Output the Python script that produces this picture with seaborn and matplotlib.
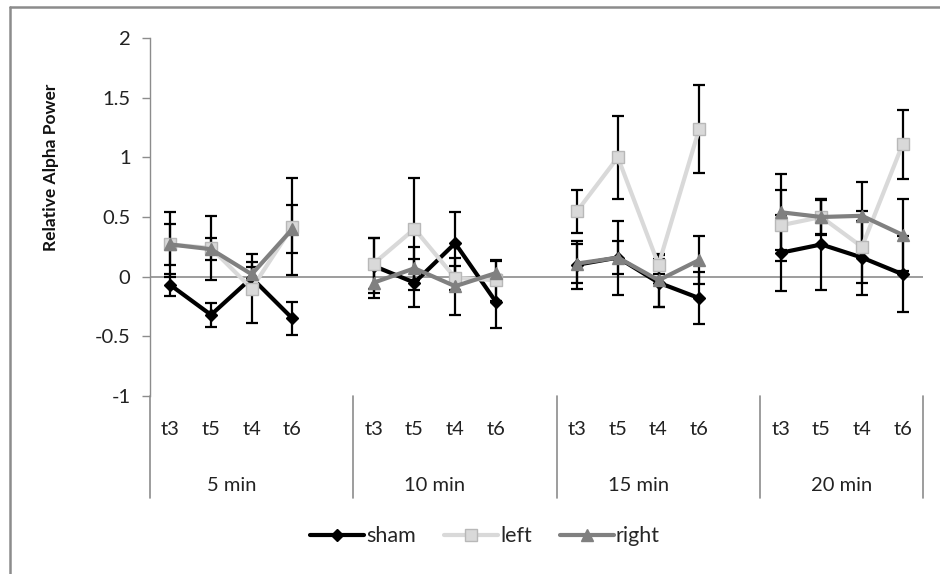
import numpy as np
import pandas as pd
import matplotlib
matplotlib.use("Agg")
import matplotlib.pyplot as plt
from matplotlib.lines import Line2D
import matplotlib.transforms as mtransforms
import seaborn as sns

# ---------------- data ----------------
groups = ["5 min", "10 min", "15 min", "20 min"]
timepoints = ["t3", "t5", "t4", "t6"]
series_names = ["sham", "left", "right"]

sham = [-0.07, -0.32, -0.01, -0.35,
        0.09, -0.05, 0.28, -0.21,
        0.10, 0.16, -0.05, -0.18,
        0.20, 0.27, 0.16, 0.02]
sham_err = [0.09, 0.10, 0.09, 0.14,
            0.23, 0.20, 0.26, 0.22,
            0.20, 0.31, 0.20, 0.22,
            0.32, 0.38, 0.31, 0.32]

left = [0.27, 0.24, -0.10, 0.42,
        0.11, 0.40, -0.01, -0.03,
        0.55, 1.00, 0.10, 1.24,
        0.43, 0.50, 0.25, 1.11]
left_err = [0.27, 0.27, 0.29, 0.41,
            0.21, 0.43, 0.10, 0.17,
            0.18, 0.35, 0.08, 0.37,
            0.30, 0.14, 0.30, 0.29]

right = [0.27, 0.23, 0.02, 0.40,
         -0.05, 0.07, -0.08, 0.03,
         0.11, 0.16, -0.03, 0.14,
         0.54, 0.50, 0.51, 0.35]
right_err = [0.17, 0.09, 0.10, 0.20,
             0.13, 0.18, 0.24, 0.10,
             0.16, 0.14, 0.22, 0.20,
             0.32, 0.15, 0.28, 0.30]

values = {"sham": sham, "left": left, "right": right}
errors = {"sham": sham_err, "left": left_err, "right": right_err}

# category slot positions: 4 points per group + one empty slot between groups
slots_per_group = 5
rows = []
for s in series_names:
    for gi, g in enumerate(groups):
        for ti, t in enumerate(timepoints):
            k = gi * 4 + ti
            rows.append({"series": s, "group": g, "time": t,
                         "pos": gi * slots_per_group + ti,
                         "value": values[s][k], "err": errors[s][k]})
df = pd.DataFrame(rows)

styles = {
    "sham":  dict(color="#000000", marker="D", ms=6.5, mfc="#000000", mec="#000000"),
    "left":  dict(color="#d9d9d9", marker="s", ms=8.5, mfc="#d9d9d9", mec="#b8b8b8"),
    "right": dict(color="#808080", marker="^", ms=9.0, mfc="#808080", mec="#808080"),
}

# ---------------- figure ----------------
sns.set_theme(style="white")
plt.rcParams["font.family"] = ["Lato", "DejaVu Sans"]

fs = 14.5
fig = plt.figure(figsize=(9.4, 5.74), dpi=100)
ax = fig.add_axes([150 / 940, 1 - 396 / 574, (923 - 150) / 940, (396 - 38) / 574])

axis_gray = "#8c8c8c"

for s in series_names:
    d = df[df["series"] == s]
    st = styles[s]
    ax.errorbar(d["pos"], d["value"], yerr=d["err"], fmt="none",
                ecolor="#000000", elinewidth=1.6, capsize=4.5, capthick=1.6,
                zorder=2)
    sns.lineplot(data=d, x="pos", y="value", units="group", estimator=None,
                 color=st["color"], lw=3.0, marker=st["marker"],
                 markersize=st["ms"], markerfacecolor=st["mfc"],
                 markeredgecolor=st["mec"], markeredgewidth=1.0,
                 sort=False, legend=False, ax=ax, zorder=3)

ax.set_xlim(-0.5, len(groups) * slots_per_group - 1.5)
ax.set_ylim(-1, 2)
ax.set_yticks([-1, -0.5, 0, 0.5, 1, 1.5, 2])
ax.set_yticklabels(["-1", "-0.5", "0", "0.5", "1", "1.5", "2"])
ax.tick_params(axis="y", which="major", length=6, width=1, color=axis_gray,
               direction="out", pad=8, labelsize=fs, labelcolor="#222222", left=True)

# x category labels
xt = df[df["series"] == "sham"]["pos"].tolist()
xl = df[df["series"] == "sham"]["time"].tolist()
ax.set_xticks(xt)
ax.set_xticklabels(xl)
ax.tick_params(axis="x", length=0, pad=18, labelsize=fs, labelcolor="#222222")

ax.set_xlabel("")
ax.set_ylabel("Relative Alpha Power", fontsize=12.5, fontweight="bold",
              color="#111111")
ax.yaxis.set_label_coords(-0.118, 0.64)

for sp in ["top", "right", "bottom"]:
    ax.spines[sp].set_visible(False)
ax.spines["left"].set_color(axis_gray)
ax.spines["left"].set_linewidth(1.0)
ax.grid(False)

ax.axhline(0, color=axis_gray, lw=1.2, zorder=1)

# group labels and separators
trans = mtransforms.blended_transform_factory(ax.transData, ax.transAxes)
seps = [-0.5] + [gi * slots_per_group - 0.5 for gi in range(1, len(groups))] + [len(groups) * slots_per_group - 1.5]
for xsep in seps:
    ax.add_line(Line2D([xsep, xsep], [0, -0.285], transform=trans,
                       color=axis_gray, lw=1.2, clip_on=False))
for gi, g in enumerate(groups):
    center = gi * slots_per_group + 1.5
    ax.text(center, -0.25, g, transform=trans, ha="center", va="center",
            fontsize=fs, color="#222222")

# legend
handles = []
for s in series_names:
    st = styles[s]
    handles.append(Line2D([0], [0], color=st["color"], lw=3.0, marker=st["marker"],
                          markersize=st["ms"] * 0.95, markerfacecolor=st["mfc"],
                          markeredgecolor=st["mec"]))
fig.legend(handles, series_names, loc="center", bbox_to_anchor=(0.516, 0.066),
           ncol=3, frameon=False, fontsize=15.5, handlelength=2.5,
           columnspacing=1.3, handletextpad=0.1)

# outer chart border (left and top edges visible)
fig.add_artist(Line2D([10 / 940, 10 / 940], [0, 1 - 7 / 574], transform=fig.transFigure,
                      color="#8c8c8c", lw=1.8))
fig.add_artist(Line2D([10 / 940, 1], [1 - 7 / 574, 1 - 7 / 574], transform=fig.transFigure,
                      color="#8c8c8c", lw=1.8))

fig.savefig("out.png", dpi=100)
